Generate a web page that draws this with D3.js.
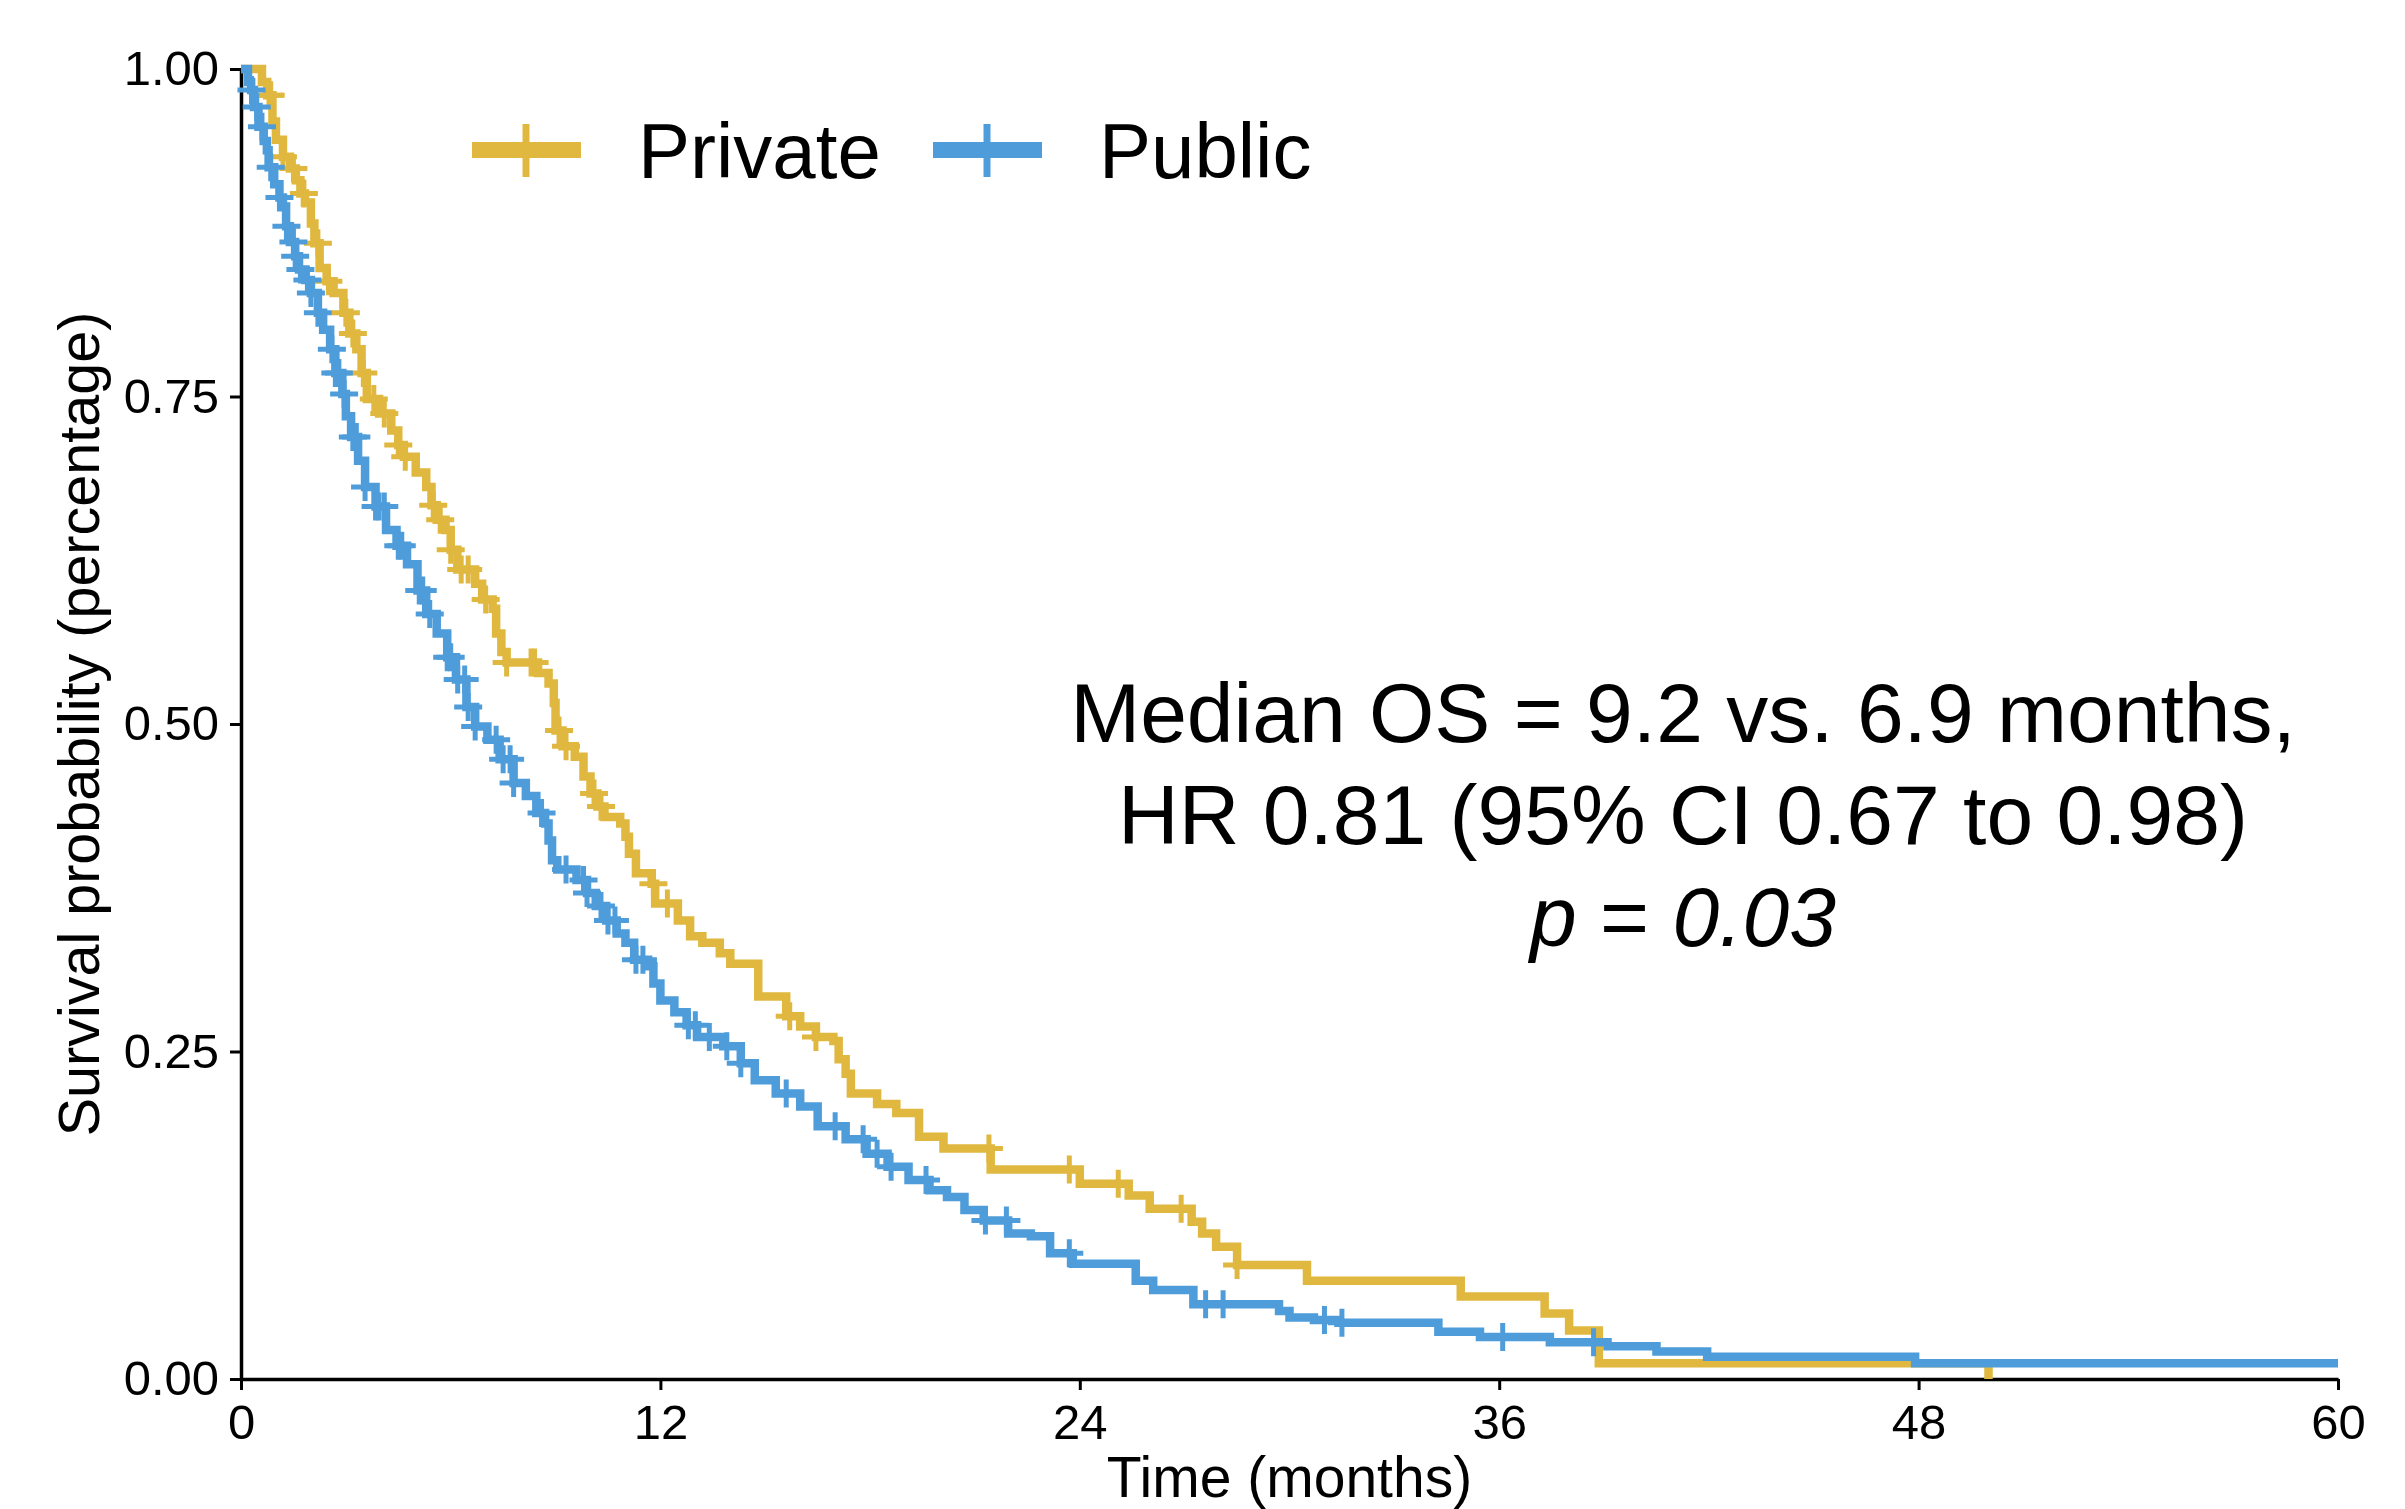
<!DOCTYPE html>
<html>
<head>
<meta charset="utf-8">
<script src="https://cdn.jsdelivr.net/npm/d3@7"></script>
<style>
  html, body { margin: 0; padding: 0; background: #fff; }
  svg { display: block; font-family: "Liberation Sans", Arial, sans-serif; }
</style>
</head>
<body>
<div id="chart"></div>
<script>
// Kaplan-Meier steps (time in months, survival after the drop)
const privateTime = [0, 0.6, 0.75, 0.9, 1.0, 1.2, 1.4, 1.57, 1.7, 1.83, 2.0, 2.1, 2.25, 2.45, 2.65, 2.93, 3.1, 3.3, 3.45, 3.6,
  3.95, 4.3, 4.5, 4.66, 5.0, 5.3, 5.45, 5.6, 5.85, 6.0, 6.19, 6.7, 6.9, 7.2, 7.3, 7.45, 7.6, 8.5, 8.8, 8.95,
  9.0, 9.2, 9.55, 9.8, 10.0, 10.2, 10.4, 10.85, 11.0, 11.1, 11.3, 11.75, 11.85, 12.5, 12.85, 13.2, 13.7, 14.0, 14.8, 15.6,
  16.0, 16.45, 16.95, 17.1, 17.3, 17.45, 18.2, 18.75, 19.4, 20.1, 21.45, 24.0, 25.4, 26.0, 27.2, 27.5, 27.9, 28.5, 30.5, 34.9,
  37.3, 38.0, 38.85, 50.0];
const privateSurv = [1.0, 0.99, 0.98, 0.96, 0.946, 0.933, 0.924, 0.915, 0.905, 0.898, 0.882, 0.867, 0.848, 0.838, 0.829, 0.814, 0.798, 0.786, 0.768, 0.748,
  0.737, 0.724, 0.713, 0.704, 0.692, 0.681, 0.667, 0.656, 0.648, 0.633, 0.618, 0.607, 0.595, 0.588, 0.569, 0.555, 0.547, 0.539, 0.531, 0.516,
  0.495, 0.483, 0.475, 0.460, 0.447, 0.437, 0.429, 0.424, 0.414, 0.401, 0.386, 0.378, 0.363, 0.350, 0.338, 0.333, 0.325, 0.317, 0.292, 0.277,
  0.269, 0.261, 0.258, 0.244, 0.233, 0.218, 0.210, 0.203, 0.185, 0.176, 0.160, 0.149, 0.140, 0.130, 0.120, 0.111, 0.101, 0.087, 0.075, 0.063,
  0.050, 0.037, 0.012, 0.0];
const privateEnd = 50.0;
const privateCensor = [0.8, 0.85, 1.2, 1.5, 1.8, 2.2, 2.5, 3.0, 3.2, 3.5, 3.8, 4.1, 4.5, 4.7, 5.5, 5.7, 6.0, 6.3, 6.5, 7.0,
  7.6, 8.3, 8.4, 9.1, 9.3, 10.1, 10.3, 11.8, 12.2, 15.7, 16.45, 21.4, 23.7, 25.1, 26.9, 28.5];

const publicTime = [0, 0.2, 0.29, 0.37, 0.5, 0.65, 0.74, 0.79, 0.95, 1.1, 1.2, 1.29, 1.4, 1.55, 1.66, 1.84, 2.0, 2.2, 2.35, 2.55,
  2.7, 2.9, 3.0, 3.15, 3.35, 3.55, 3.85, 4.15, 4.45, 4.75, 5.05, 5.3, 5.6, 5.9, 6.15, 6.45, 6.7, 7.05, 7.4, 7.8,
  8.15, 8.45, 8.7, 8.8, 8.9, 9.05, 9.6, 9.9, 10.15, 10.45, 10.75, 11.0, 11.25, 11.65, 11.8, 12.0, 12.4, 12.75, 13.05, 13.8,
  14.3, 14.7, 15.3, 16.0, 16.5, 17.3, 17.9, 18.5, 19.1, 19.7, 20.2, 20.7, 21.25, 21.95, 22.6, 23.15, 23.8, 25.6, 26.1, 27.25,
  29.7, 30.0, 30.7, 31.4, 34.26, 35.45, 37.45, 39.1, 40.5, 41.95, 47.9];
const publicSurv = [1.0, 0.99, 0.984, 0.971, 0.956, 0.945, 0.938, 0.925, 0.912, 0.902, 0.895, 0.880, 0.868, 0.857, 0.847, 0.839, 0.829, 0.814, 0.801, 0.786,
  0.768, 0.752, 0.735, 0.719, 0.701, 0.681, 0.666, 0.648, 0.636, 0.622, 0.602, 0.584, 0.569, 0.551, 0.534, 0.513, 0.498, 0.488, 0.473, 0.455,
  0.445, 0.432, 0.424, 0.411, 0.396, 0.389, 0.381, 0.371, 0.361, 0.350, 0.340, 0.333, 0.320, 0.315, 0.302, 0.289, 0.280, 0.270, 0.261, 0.254,
  0.241, 0.228, 0.218, 0.208, 0.193, 0.183, 0.172, 0.162, 0.152, 0.144, 0.139, 0.129, 0.121, 0.111, 0.109, 0.096, 0.088, 0.075, 0.068, 0.057,
  0.052, 0.047, 0.045, 0.043, 0.036, 0.032, 0.028, 0.025, 0.021, 0.017, 0.012];
const publicEnd = 60.0;
const publicCensor = [0.3, 0.45, 0.6, 0.85, 1.1, 1.3, 1.5, 1.55, 1.7, 1.9, 2.0, 2.2, 2.6, 2.7, 2.8, 2.95, 3.2, 3.3, 3.55, 3.85,
  3.95, 4.1, 4.5, 4.6, 5.1, 5.2, 5.4, 5.9, 6.0, 6.2, 6.4, 6.5, 6.7, 7.3, 7.5, 7.7, 7.8, 8.6, 9.3, 9.8,
  9.9, 10.3, 10.5, 10.7, 11.3, 11.5, 12.8, 13.0, 13.4, 13.9, 14.3, 15.6, 17.0, 17.8, 18.2, 18.6, 19.6, 21.3, 21.9, 23.7,
  27.6, 28.1, 31.0, 31.5, 36.1, 38.7];

const groups = ["Private", "Public"];
const colors = ["#E0B83F", "#4E9DDA"];
const xTicks = [0, 12, 24, 36, 48, 60];
const yTicks = [0, 0.25, 0.5, 0.75, 1.0];
const annotation = ["Median OS = 9.2 vs. 6.9 months,", "HR 0.81 (95% CI 0.67 to 0.98)"];

const width = 2405, height = 1509;
const margin = {top: 69, right: 67, bottom: 130, left: 241};

const svg = d3.select("#chart").append("svg")
  .attr("width", width)
  .attr("height", height);

const x = d3.scaleLinear().domain([0, 60]).range([margin.left, width - margin.right]);
const y = d3.scaleLinear().domain([0, 1]).range([height - margin.bottom, margin.top]);

const series = [
  {name: groups[0], color: colors[0], time: privateTime, surv: privateSurv, end: privateEnd, censor: privateCensor},
  {name: groups[1], color: colors[1], time: publicTime, surv: publicSurv, end: publicEnd, censor: publicCensor}
];

// survival value at time t (step after)
function survAt(s, t) {
  let v = s.surv[0];
  for (let i = 0; i < s.time.length; i++) {
    if (s.time[i] <= t) v = s.surv[i];
  }
  return v;
}

const line = d3.line()
  .x(d => x(d[0]))
  .y(d => y(d[1]))
  .curve(d3.curveStepAfter);

// axes
svg.append("g")
  .attr("transform", `translate(0,${y(0)})`)
  .call(d3.axisBottom(x).tickValues(xTicks).tickSize(11).tickSizeOuter(0).tickPadding(14))
  .call(g => g.select(".domain").attr("stroke", "#000").attr("stroke-width", 3.5))
  .call(g => g.selectAll(".tick line").attr("stroke", "#000").attr("stroke-width", 3))
  .call(g => g.selectAll(".tick text").attr("fill", "#000").attr("font-size", 49)
    .attr("font-family", "Liberation Sans, Arial, sans-serif"));

svg.append("g")
  .attr("transform", `translate(${x(0)},0)`)
  .call(d3.axisLeft(y).tickValues(yTicks).tickFormat(d3.format(".2f")).tickSize(11).tickSizeOuter(0).tickPadding(11))
  .call(g => g.select(".domain").attr("stroke", "#000").attr("stroke-width", 3.5))
  .call(g => g.selectAll(".tick line").attr("stroke", "#000").attr("stroke-width", 3))
  .call(g => g.selectAll(".tick text").attr("fill", "#000").attr("font-size", 49)
    .attr("font-family", "Liberation Sans, Arial, sans-serif"));

// curves
series.forEach(s => {
  const pts = s.time.map((t, i) => [t, s.surv[i]]);
  pts.push([s.end, s.surv[s.surv.length - 1]]);

  svg.append("path")
    .datum(pts)
    .attr("fill", "none")
    .attr("stroke", s.color)
    .attr("stroke-width", 8.5)
    .attr("stroke-linejoin", "miter")
    .attr("d", line);

  svg.append("g")
    .selectAll("path")
    .data(s.censor)
    .enter().append("path")
    .attr("d", t => {
      const cx = x(t), cy = y(survAt(s, t));
      return `M${cx - 14},${cy}H${cx + 14}M${cx},${cy - 14}V${cy + 14}`;
    })
    .attr("stroke", s.color)
    .attr("stroke-width", 5)
    .attr("fill", "none");
});

// axis titles
svg.append("text")
  .attr("x", (x(0) + x(60)) / 2)
  .attr("y", 1497)
  .attr("text-anchor", "middle")
  .attr("font-size", 57)
  .text("Time (months)");

svg.append("text")
  .attr("transform", `translate(99,${(y(0) + y(1)) / 2}) rotate(-90)`)
  .attr("text-anchor", "middle")
  .attr("font-size", 57.5)
  .text("Survival probability (percentage)");

// legend
const legendX = [472, 933];
const legend = svg.append("g");
series.forEach((s, i) => {
  const lx = legendX[i], ly = 150;
  legend.append("line")
    .attr("x1", lx).attr("x2", lx + 109)
    .attr("y1", ly).attr("y2", ly)
    .attr("stroke", s.color).attr("stroke-width", 16);
  legend.append("line")
    .attr("x1", lx + 54).attr("x2", lx + 54)
    .attr("y1", ly - 26).attr("y2", ly + 27)
    .attr("stroke", s.color).attr("stroke-width", 7);
  legend.append("text")
    .attr("x", lx + 166)
    .attr("y", 178)
    .attr("font-size", 78)
    .text(s.name);
});

// annotation
const ann = svg.append("g").attr("text-anchor", "middle").attr("font-size", 84);
annotation.forEach((txt, i) => {
  ann.append("text")
    .attr("x", 1683)
    .attr("y", 742 + i * 102)
    .text(txt);
});
const pLine = ann.append("text").attr("x", 1683).attr("y", 946);
pLine.append("tspan").attr("font-style", "italic").text("p");
pLine.append("tspan").text(" = ");
pLine.append("tspan").attr("font-style", "italic").text("0.03");
</script>
</body>
</html>
